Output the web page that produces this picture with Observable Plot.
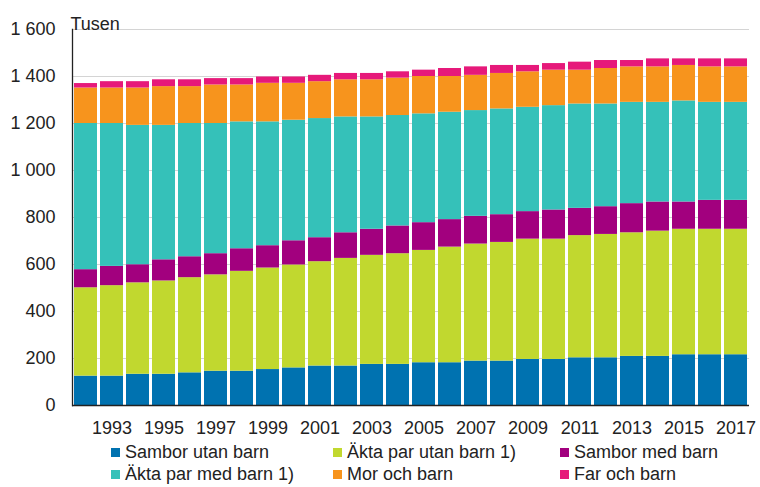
<!DOCTYPE html>
<html>
<head>
<meta charset="utf-8">
<script src="https://cdn.jsdelivr.net/npm/d3@7"></script>
<script src="https://cdn.jsdelivr.net/npm/@observablehq/plot@0.6"></script>
<style>
  body { margin: 0; background: #fff; font-family: "Liberation Sans", Arial, sans-serif; }
  #wrap { position: relative; width: 760px; }
  #legend { position: relative; width: 760px; height: 47px; font-size: 18px; color: #222; }
  .item { position: absolute; display: flex; align-items: center; white-space: nowrap; height: 22px; }
  .sw { width: 9px; height: 9px; margin-right: 5px; }
</style>
</head>
<body>
<div id="wrap"><div id="chart"></div><div id="legend"></div></div>
<script>
const years = [1992,1993,1994,1995,1996,1997,1998,1999,2000,2001,2002,2003,2004,2005,2006,2007,2008,2009,2010,2011,2012,2013,2014,2015,2016,2017];
const seriesNames = ["Sambor utan barn","Äkta par utan barn 1)","Sambor med barn","Äkta par med barn 1)","Mor och barn","Far och barn"];
const seriesColors = ["#0072b0","#c1d82f","#a2007e","#35c1b9","#f7941d","#e6197a"];

const samborUtanBarn = [125,125,133,133,139,146,146,153,160,168,168,175,175,182,182,189,189,196,196,203,203,209,209,216,216,216];
const aktaParUtanBarn = [376,385,389,397,405,410,425,432,438,444,458,464,471,478,492,498,505,512,512,520,525,526,533,534,534,534];
const samborMedBarn = [77,82,77,90,89,90,96,95,103,102,109,111,118,118,117,118,118,117,124,116,118,124,124,116,123,123];
const aktaParMedBarn = [622,608,593,572,567,554,540,527,513,507,493,478,470,463,457,450,450,444,444,444,437,431,424,430,417,417];
const morOchBarn = [151,151,159,165,157,164,157,164,157,157,158,158,159,159,152,150,151,151,151,144,151,151,151,151,151,151];
const farOchBarn = [19,27,27,29,29,27,27,27,27,27,27,27,27,27,34,36,34,27,28,34,34,27,34,28,34,34];

const xTicks = [1993,1995,1997,1999,2001,2003,2005,2007,2009,2011,2013,2015,2017];
const yTicks = [0,200,400,600,800,1000,1200,1400,1600];

const seriesValues = [samborUtanBarn, aktaParUtanBarn, samborMedBarn, aktaParMedBarn, morOchBarn, farOchBarn];
const data = [];
years.forEach((yr, i) => {
  seriesNames.forEach((s, k) => data.push({year: yr, series: s, value: seriesValues[k][i]}));
});

const fmt = d3.formatLocale({decimal: ",", thousands: " ", grouping: [3], currency: ["", ""]}).format(",");

const plot = Plot.plot({
  width: 760,
  height: 440,
  marginLeft: 72,
  marginRight: 11,
  marginTop: 29,
  marginBottom: 35,
  style: {fontFamily: "'Liberation Sans', Arial, sans-serif", fontSize: "18px", color: "#222", background: "#fff"},
  x: {type: "band", domain: years, paddingInner: 0.13, paddingOuter: 0.07, label: null},
  y: {domain: [0, 1600], label: null},
  color: {domain: seriesNames, range: seriesColors},
  marks: [
    Plot.gridY(yTicks.filter(d => d > 0), {stroke: "#d4d4d4", strokeOpacity: 1, strokeWidth: 1}),
    Plot.barY(data, {x: "year", y: "value", fill: "series", order: seriesNames}),
    Plot.axisY(yTicks, {tickSize: 0, tickPadding: 17, tickFormat: fmt, fontSize: 18, label: null}),
    Plot.axisX(xTicks, {tickSize: 0, tickPadding: 16, fontSize: 18, label: null, tickFormat: d => String(d)}),
    Plot.frame({anchor: "left", stroke: "#222", strokeWidth: 1.3}),
    Plot.ruleY([0], {stroke: "#222", strokeWidth: 1.3}),
    Plot.text(["Tusen"], {frameAnchor: "top-left", dx: -2, dy: -12, textAnchor: "start", fontSize: 18, fill: "#222"})
  ]
});
document.getElementById("chart").appendChild(plot);

const legend = document.getElementById("legend");
const colX = [111, 333, 560];
const rowY = [1, 23];
seriesNames.forEach((s, k) => {
  const it = document.createElement("div");
  it.className = "item";
  it.style.left = colX[k % 3] + "px";
  it.style.top = rowY[Math.floor(k / 3)] + "px";
  const sw = document.createElement("span");
  sw.className = "sw";
  sw.style.background = seriesColors[k];
  const tx = document.createElement("span");
  tx.textContent = s;
  it.appendChild(sw);
  it.appendChild(tx);
  legend.appendChild(it);
});
</script>
</body>
</html>
